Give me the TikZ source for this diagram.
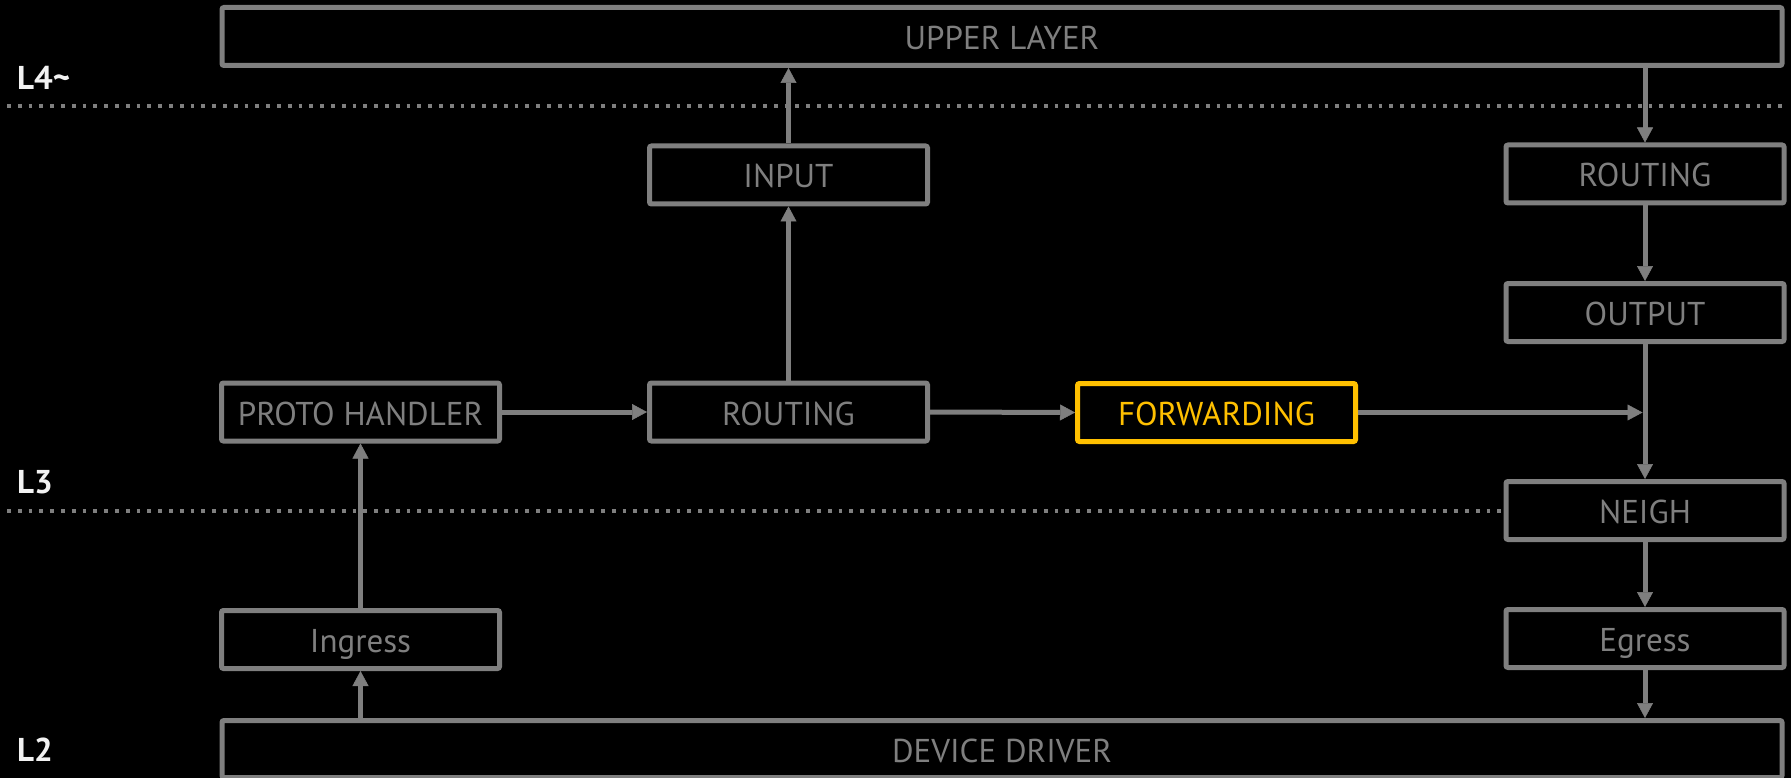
\documentclass[tikz,border=0pt]{standalone}
\usepackage{fontspec}
\setmainfont{PT Sans}
\usetikzlibrary{arrows.meta}
\definecolor{lg}{HTML}{7F7F7F}
\definecolor{hl}{HTML}{FFC000}
\definecolor{lbl}{HTML}{F2F2F2}
\begin{document}
\begin{tikzpicture}[x=1pt,y=-1pt,
  box/.style={draw=lg, line width=5pt, rounded corners=2pt, minimum width=278pt, minimum height=58pt, inner sep=0pt, text=lg, font=\fontsize{33}{40}\selectfont, text height=26pt, text depth=0pt, fill=black},
  hot/.style={box, draw=hl, text=hl},
  wide/.style={box, minimum width=1560pt},
  conn/.style={draw=lg, line width=5pt, -{Triangle[length=15pt,width=16pt,line width=0.5pt]}},
  sep/.style={draw=lg, line width=4pt, dash pattern=on 3.8pt off 7pt},
  lay/.style={text=lbl, font=\bfseries\fontsize{33}{40}\selectfont, anchor=base west, inner sep=0pt}
]
\fill[black] (0,0) rectangle (1791,778);
\useasboundingbox (0,0) rectangle (1791,778);

% layer separators
\draw[sep] (7,106) -- (1784,106);

% nodes
\node[wide] (UL) at (1002,36.5) {UPPER LAYER};
\node[box] (IN) at (788.5,175) {INPUT};
\node[box] (R2) at (1645,174) {ROUTING};
\node[box] (OUT) at (1645,312.5) {OUTPUT};
\node[box] (PH) at (360.5,412) {PROTO HANDLER};
\node[box] (R1) at (788.5,412) {ROUTING};
\node[hot] (FW) at (1216.5,412.5) {FORWARDING};
\node[box] (NE) at (1645,510.5) {NEIGH};
\node[box] (ING) at (360.5,639.5) {Ingress};
\node[box] (EG) at (1645,638.5) {Egress};
\node[wide, minimum height=57pt] (DD) at (1002,749) {DEVICE DRIVER};

\coordinate (S3) at (7,510.5);
\draw[sep] (S3) -- (NE.west);

% layer labels
\node[lay] (L4) at (17,89.3) {L4\textasciitilde};
\node[lay] (L3) at (17,493.3) {L3};
\node[lay] (L2) at (17,761.7) {L2};

% connectors
\coordinate (J) at (1642.5,412.5);
\draw[conn] (PH.east) -- (R1.west);
\draw[conn] (R1.east) -- (FW.west);
\draw[conn] (FW.east) -- (J);
\draw[conn] (R1.north) -- (IN.south);
\draw[conn] (IN.north) -- (IN.north |- UL.south);
\draw[conn] (R2.north |- UL.south) -- (R2.north);
\draw[conn] (R2.south) -- (OUT.north);
\draw[conn] (OUT.south) -- (NE.north);
\draw[conn] (NE.south) -- (EG.north);
\draw[conn] (EG.south) -- (EG.south |- DD.north);
\draw[conn] (ING.north) -- (PH.south);
\draw[conn] (ING.south |- DD.north) -- (ING.south);
\end{tikzpicture}
\end{document}
